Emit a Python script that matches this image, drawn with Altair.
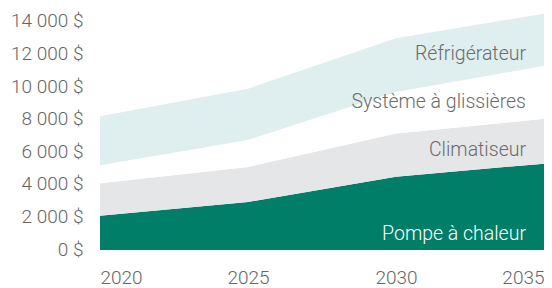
import altair as alt
import pandas as pd

years = [2020, 2025, 2030, 2035]
series = ["Pompe à chaleur", "Climatiseur", "Système à glissières", "Réfrigérateur"]
pompe = [2100, 2950, 4500, 5300]
climatiseur = [2000, 2150, 2650, 2750]
systeme = [1100, 1650, 2550, 3250]
refrigerateur = [3000, 3150, 3300, 3200]
colors = ["#007E68", "#E5E6E8", "#FFFFFF", "#DFEEEE"]
text_colors = ["#FFFFFF", "#6B6B6B", "#6B6B6B", "#6B6B6B"]
label_values = [1000, 6150, 9100, 12000]
y_ticks = [0, 2000, 4000, 6000, 8000, 10000, 12000, 14000]

rows = []
for i, (name, vals) in enumerate(zip(series, [pompe, climatiseur, systeme, refrigerateur])):
    for y, v in zip(years, vals):
        rows.append({"annee": y, "serie": name, "valeur": v, "ordre": i})
df = pd.DataFrame(rows)

labels = pd.DataFrame({
    "annee": [2035] * 4,
    "serie": series,
    "pos": label_values,
    "couleur": text_colors,
})

FONT = "Roboto"
W = 300

xscale = alt.Scale(domain=[2020, 2035], nice=False, zero=False)
yscale = alt.Scale(domain=[0, 14850], nice=False)

xaxis = alt.Axis(values=years, format="d", title=None, grid=False, domain=False,
                 ticks=False, labelFlush=True, labelPadding=18, labelFontSize=19,
                 labelFont=FONT, labelFontWeight=W, labelColor="#666666",
                 labelOverlap=False)
yaxis = alt.Axis(values=y_ticks, title=None, grid=False, domain=False, ticks=False,
                 labelExpr="replace(format(datum.value, ',d'), ',', ' ') + ' $'",
                 labelPadding=17, labelFontSize=19, labelFont=FONT,
                 labelFontWeight=W, labelColor="#666666", labelOffset=-1,
                 labelOverlap=False, labelBound=False)

area = alt.Chart(df).mark_area(opacity=1, interpolate="linear").encode(
    x=alt.X("annee:Q", scale=xscale, axis=xaxis),
    y=alt.Y("valeur:Q", stack="zero", scale=yscale, axis=yaxis),
    color=alt.Color("serie:N", scale=alt.Scale(domain=series, range=colors), legend=None),
    order=alt.Order("ordre:Q"),
)

text = alt.Chart(labels).mark_text(align="right", baseline="middle", dx=-18,
                                   fontSize=19.5, font=FONT, fontWeight=W).encode(
    x=alt.X("annee:Q", scale=xscale, axis=xaxis),
    y=alt.Y("pos:Q", scale=yscale, axis=yaxis),
    text="serie:N",
    color=alt.Color("couleur:N", scale=None),
)

chart = alt.layer(area, text).properties(
    width=444, height=242,
    padding={"left": 92, "top": 0, "right": 0, "bottom": 40},
    autosize=alt.AutoSizeParams(type="none"),
    background="white",
).configure_view(stroke=None).configure_axis(labelOverlap=False, labelBound=False)

chart.save("out.html", embed_options={"renderer": "svg", "actions": False})
